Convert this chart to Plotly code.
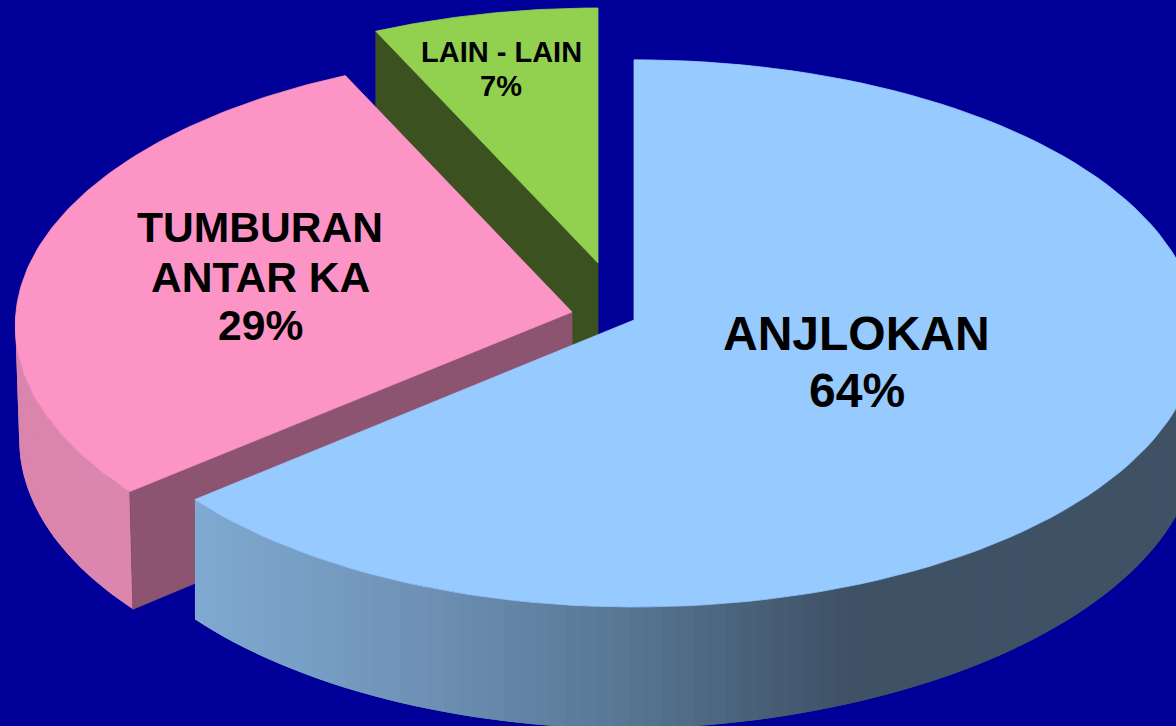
import math
import plotly.graph_objects as go

# data
labels = ["ANJLOKAN", "TUMBURAN ANTAR KA", "LAIN - LAIN"]
values = [64, 29, 7]

# label lines
label_lines = [["ANJLOKAN", "64%"], ["TUMBURAN", "ANTAR KA", "29%"], ["LAIN - LAIN", "7%"]]
label_x = [856.5, 260, 501]
label_y = [[333, 390], [227, 277, 325], [52, 86]]
label_size = [48, 42.6, 29]

# slice geometry in page pixels
apex_x = [634, 572, 598]
apex_y = [320, 312, 263]
radius_left = [552, 556, 545]
radius_right = [563, 556, 545]
depths = [116, 114, 116]
depth_x_shrink = [1.0, 0.993, 1.0]
depth_right_taper = [0.09, 0.0, 0.0]

# style
BG = "#000099"
top_col = ["#97caff", "#fd94c6", "#92d050"]
radial_col = [None, "#8c5470", "#3c5120"]
RY, K = 272.9, 0.049
blue_stops = [(195, (128, 170, 210)), (400, (112, 148, 184)), (600, (90, 122, 152)),
              (850, (62, 81, 101)), (1200, (62, 81, 101))]
pink_stops = [(0, (218, 133, 173)), (140, (220, 134, 174))]


def proj(i, deg, r=1.0, low=False):
    t = math.radians(deg)
    X, Y = r * math.sin(t), r * math.cos(t)
    w = 1 + K * Y
    rx = radius_right[i] if X > 0 else radius_left[i]
    ry = RY * rx / 556 if i == 2 else RY
    x = rx * X / w
    y = -ry * Y / w
    if low:
        x *= depth_x_shrink[i]
        y += depths[i] * (1 - depth_right_taper[i] * max(X, 0)) / w
    return apex_x[i] + x, apex_y[i] + y


def shade(stops, x):
    if x <= stops[0][0]:
        c = stops[0][1]
    elif x >= stops[-1][0]:
        c = stops[-1][1]
    else:
        for (x0, c0), (x1, c1) in zip(stops, stops[1:]):
            if x0 <= x <= x1:
                f = (x - x0) / (x1 - x0)
                c = tuple(a + (b - a) * f for a, b in zip(c0, c1))
                break
    return "rgb(%d,%d,%d)" % tuple(round(v) for v in c)


def poly(pts, col, lw=0.8):
    xs = [p[0] for p in pts] + [pts[0][0]]
    ys = [p[1] for p in pts] + [pts[0][1]]
    return go.Scatter(x=xs, y=ys, mode="lines", fill="toself", fillcolor=col,
                      line=dict(color=col, width=lw), hoverinfo="skip", showlegend=False)


def arc(a0, a1, n=120):
    return [a0 + (a1 - a0) * i / n for i in range(n + 1)]


total = sum(values)
edges = [0.0]
for v in values:
    edges.append(edges[-1] + 360.0 * v / total)

fig = go.Figure()


def side_strips(i, a0, a1, stops, n):
    # Each strip overlaps its neighbour so no seam shows.
    step = (a1 - a0) / n
    for j in range(n):
        s0 = a0 + step * j
        s1 = a1 if j == n - 1 else s0 + step * 2
        mid = proj(i, s0 + step / 2)[0]
        sweep = arc(s0, s1, 4)
        p = [proj(i, s) for s in sweep] + [proj(i, s, low=True) for s in reversed(sweep)]
        fig.add_trace(poly(p, shade(stops, mid), lw=0))


def radial_face(i, deg):
    p = [(apex_x[i], apex_y[i]), proj(i, deg), proj(i, deg, low=True), proj(i, deg, r=0, low=True)]
    fig.add_trace(poly(p, radial_col[i]))


def top_face(i):
    p = [(apex_x[i], apex_y[i])] + [proj(i, d) for d in arc(edges[i], edges[i + 1])]
    fig.add_trace(poly(p, top_col[i]))


# back to front: green, pink, blue
radial_face(2, edges[2])
top_face(2)
side_strips(1, edges[1], 270, pink_stops, 12)
radial_face(1, edges[1])
top_face(1)
side_strips(0, 90, edges[1], blue_stops, 90)
top_face(0)

annotations = []
for lines, x, ys, size in zip(label_lines, label_x, label_y, label_size):
    for line, y in zip(lines, ys):
        annotations.append(dict(x=x, y=y, xref="x", yref="y", text="<b>%s</b>" % line, showarrow=False,
                                xanchor="center", yanchor="middle",
                                font=dict(family="Liberation Sans, Arial, sans-serif", size=size, color="#000000")))

fig.update_layout(
    width=1176, height=726, margin=dict(l=0, r=0, t=0, b=0),
    paper_bgcolor=BG, plot_bgcolor=BG, showlegend=False, annotations=annotations,
    xaxis=dict(range=[0, 1176], visible=False, fixedrange=True),
    yaxis=dict(range=[726, 0], visible=False, fixedrange=True),
)
fig.write_html("out.html", config=dict(displayModeBar=False),
               post_script="document.body.style.margin='0';document.body.style.background='%s';"
                           "document.body.style.overflow='hidden';" % BG)
